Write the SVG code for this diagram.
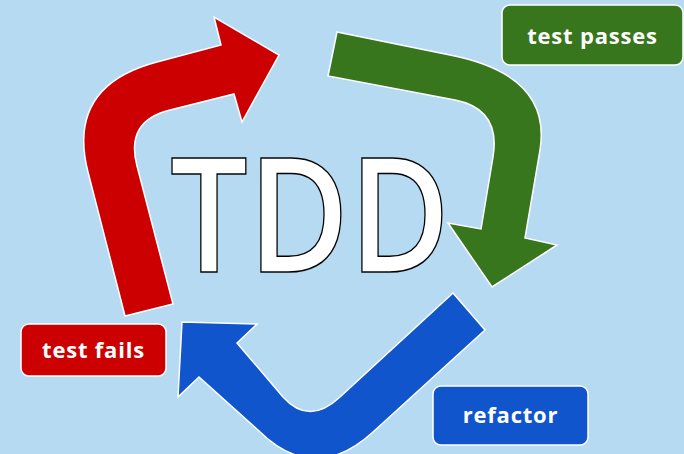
<svg xmlns="http://www.w3.org/2000/svg" width="684" height="454" viewBox="0 0 684 454">
  <style>
    .arrow { stroke: #ffffff; stroke-width: 1.5; stroke-linejoin: miter; }
    .box { stroke: #ffffff; stroke-width: 1.5; }
    .label { font-family: "Open Sans", "Liberation Sans", sans-serif; font-weight: 700; font-size: 22px; letter-spacing: 0.8px; fill: #ffffff; text-anchor: middle; }
    .title { font-family: "Open Sans", "DejaVu Sans", sans-serif; font-weight: 600; font-size: 159px; fill: #ffffff; stroke: #000000; stroke-width: 1.5; }
  </style>
  <rect x="0" y="0" width="684" height="454" fill="#b5daf2"/>

  <g id="connectors">
    <!-- red: test fails -> test passes -->
    <path id="arrow-red" class="arrow" fill="#cc0000"
      d="M125,316 L88,172 Q66,86 157,62 L221,45 L214,17 L279,55 L242,122 L234,94 L170,110 Q125,121 137,166 L173,304 Z"/>
    <!-- green: test passes -> refactor -->
    <path id="arrow-green" class="arrow" fill="#38761d"
      d="M337,32 L450,55 Q552,75 540,150 L525,238 L557,245 L492,287 L448,223 L481,229 L493,157 Q501,109 455,100 L328,76 Z"/>
    <!-- blue: refactor -> test fails -->
    <path id="arrow-blue" class="arrow" fill="#1155cc"
      d="M453,293 L485,330 L373,432 Q314,486 258,430 L199,377 L178,397 L182,322 L257,324 L237,343 L283,397 Q309,426 340,397 Z"/>
  </g>

  <g id="title">
    <text class="title" x="170" y="272" textLength="280" lengthAdjust="spacingAndGlyphs">TDD</text>
  </g>

  <g id="node-test-fails">
    <rect class="box" x="21" y="324" width="145" height="52" rx="8" fill="#cc0000"/>
    <text class="label" x="93.5" y="358">test fails</text>
  </g>

  <g id="node-test-passes">
    <rect class="box" x="502" y="5" width="181" height="60" rx="8" fill="#38761d"/>
    <text class="label" x="592.5" y="44">test passes</text>
  </g>

  <g id="node-refactor">
    <rect class="box" x="433" y="386" width="155" height="59" rx="8" fill="#1155cc"/>
    <text class="label" x="510.5" y="423">refactor</text>
  </g>
</svg>
